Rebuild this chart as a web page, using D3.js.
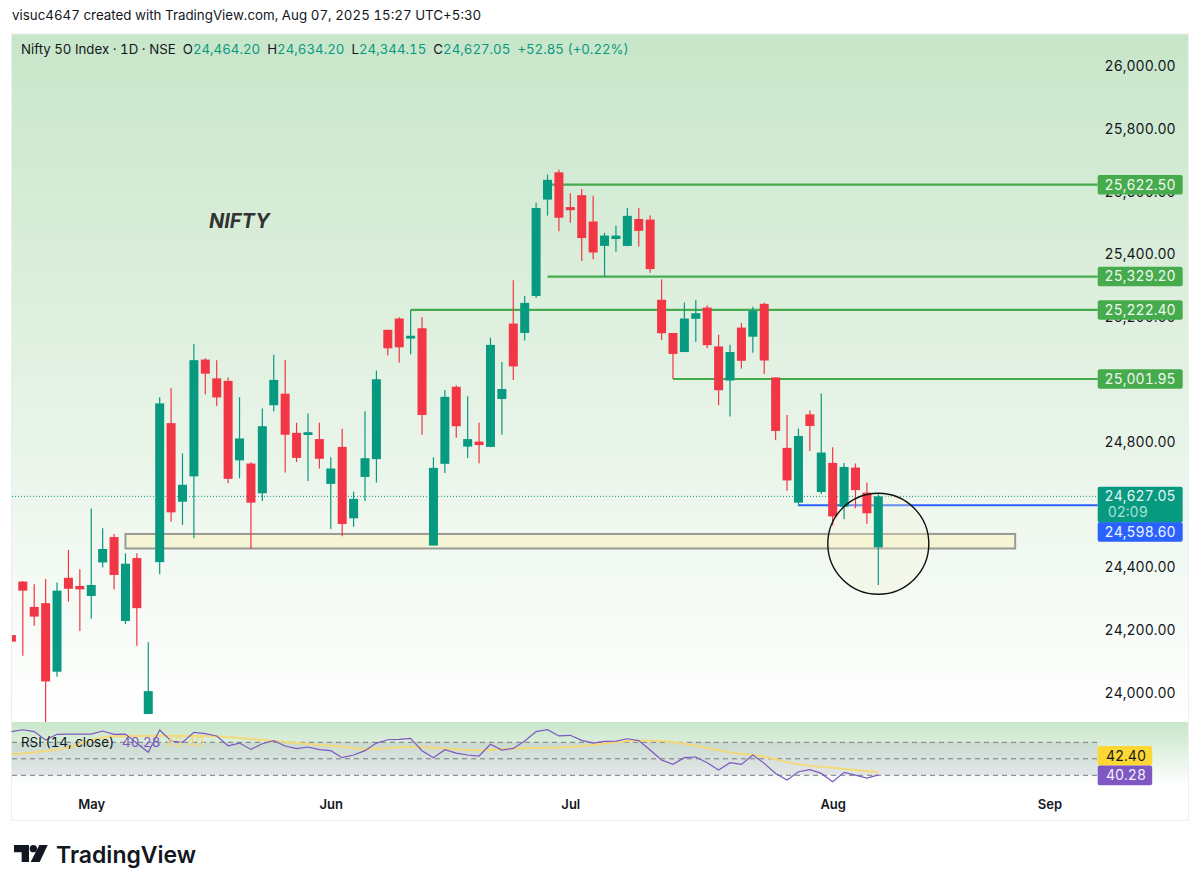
<!DOCTYPE html>
<html>
<head>
    <title>Nifty 50 Index</title>
    <script src="https://d3js.org/d3.v7.min.js"></script>
    <style>
        body { margin: 0; background: #fff; }
        text { font-family: Inter, "Noto Sans", sans-serif; font-feature-settings: "tnum"; }
    </style>
</head>
<body>
    <div id="chart"></div>
    <script>
        // candles, oldest first
        const opens = [24184, 24355, 24274, 24286, 24067, 24367, 24341, 24309, 24416, 24497, 24229, 24430, 23932, 24417, 24861, 24610, 24691, 25064, 25004, 24996, 24742, 24732, 24637, 24918, 24955, 24830, 24823, 24810, 24667, 24785, 24557, 24689, 24746, 25159, 25195, 25131, 25164, 24470, 24731, 24977, 24786, 24802, 24785, 24938, 25179, 25149, 25267, 25575, 25662, 25551, 25589, 25505, 25427, 25449, 25427, 25513, 25511, 25255, 25149, 25088, 25194, 25230, 25106, 24997, 25166, 25137, 25242, 25007, 24782, 24607, 24889, 24641, 24734, 24594, 24719, 24639, 24464.20];
        const highs = [24241, 24356, 24346, 24363, 24352, 24456, 24394, 24588, 24525, 24507, 24445, 24445, 24161, 24944, 24972, 24764, 25114, 25068, 25062, 25007, 24944, 24736, 24908, 25079, 25063, 24862, 24892, 24862, 24752, 24843, 24642, 24899, 25029, 25159, 25199, 25222, 25199, 24752, 24967, 24982, 24947, 24862, 25134, 25056, 25317, 25267, 25565, 25655, 25670, 25595, 25609, 25587, 25469, 25491, 25548, 25548, 25524, 25320, 25149, 25246, 25254, 25237, 25143, 25111, 25181, 25233, 25246, 25007, 24887, 24844, 24901, 24956, 24784, 24734, 24732, 24671, 24634.20];
        const lows = [24070, 24118, 24214, 23905, 24051, 24291, 24197, 24236, 24400, 24330, 24219, 24150, 23932, 24378, 24546, 24536, 24493, 24953, 24916, 24669, 24685, 24459, 24612, 24899, 24703, 24737, 24676, 24716, 24523, 24500, 24530, 24612, 24671, 25077, 25055, 25081, 24824, 24470, 24702, 24814, 24750, 24733, 24784, 24824, 24999, 25125, 25261, 25524, 25474, 25501, 25379, 25384, 25329, 25408, 25426, 25425, 25341, 25127, 25002, 25088, 25121, 25100, 24918, 24882, 25035, 25086, 25018, 24807, 24645, 24597, 24772, 24635, 24534, 24554, 24589, 24540, 24344.15];
        const closes = [24163, 24326, 24243, 24036, 24326, 24332, 24330, 24344, 24459, 24376, 24412, 24270, 24005, 24924, 24576, 24664, 25062, 25019, 24943, 24683, 24812, 24607, 24851, 24999, 24824, 24750, 24832, 24747, 24716, 24539, 24619, 24749, 25001, 25100, 25103, 25140, 24887, 24718, 24945, 24851, 24810, 24791, 25111, 24970, 25042, 25245, 25548, 25638, 25517, 25541, 25452, 25406, 25460, 25460, 25523, 25475, 25353, 25148, 25082, 25195, 25212, 25110, 24966, 25088, 25060, 25220, 25061, 24836, 24678, 24820, 24852, 24767, 24563, 24721, 24647, 24573, 24627.05];

        const rsiValues = [74.4, 75.9, 74.4, 67.8, 72.3, 72.5, 72.5, 72.5, 74.9, 72.3, 72.5, 65.2, 58.1, 75.7, 67, 66, 73.8, 72.8, 71, 63.3, 65.4, 60.4, 64.9, 67.3, 63.1, 61, 62.3, 60.2, 59.4, 53.9, 56, 59.4, 65.4, 68, 68.3, 69.1, 59.4, 53.9, 60.2, 57.5, 56, 55.2, 64.4, 59.9, 61.2, 67, 74.4, 75.9, 71, 71.5, 67.5, 65.4, 66.7, 67, 68.8, 67.3, 59.9, 52, 48.6, 53.9, 54.4, 49.9, 44.2, 49.9, 48.6, 56, 49.4, 41.5, 36.3, 42.8, 44.4, 41.5, 35, 42.3, 40.2, 37.8, 40.28];
        const maBars = [0, 3, 5, 7, 9, 13, 17, 21, 25, 29, 31, 35, 38, 41, 44, 48, 51, 53, 55, 57, 60, 63, 66, 69, 72, 76];
        const maValues = [56.5, 59.1, 61.8, 67.8, 70.7, 71.2, 71, 68.6, 65.4, 62.5, 60.7, 62.3, 61.2, 59.7, 61.2, 62, 63.9, 66, 67.5, 67, 63.3, 58.1, 54.7, 48.6, 46, 42.4];
        const rsiLevels = [66, 53, 40];

        // 24,600 and 25,000 sit fully under the price labels in the reference
        const axisPrices = [24000, 24200, 24400, 24800, 25200, 25400, 25600, 25800, 26000];
        const monthBars = [7, 28, 49, 72, 91];
        const monthLabels = ["May", "Jun", "Jul", "Aug", "Sep"];

        const levelPrices = [25622.5, 25329.2, 25222.4, 25001.95];
        const levelStartBars = [47, 47, 35, 58];
        const levelLabels = ["25,622.50", "25,329.20", "25,222.40", "25,001.95"];

        const width = 1200, height = 889;
        const pane = {left: 12, right: 1188, top: 34, bottom: 722};
        const rsiPane = {top: 722, bottom: 786};
        const labelX = 1097.7, labelW = 85;
        const green = "#089981", red = "#f23645", levelGreen = "#46ab4c";

        const svg = d3.select("#chart").append("svg").attr("width", width).attr("height", height);

        const x = d3.scaleLinear().domain([0, 76]).range([11.4, 878.3]);
        const y = d3.scaleLinear().domain([24000, 26000]).range([692.7, 66.5]);
        const yRsi = d3.scaleLinear().domain([40, 66]).range([775.3, 742.3]);

        const defs = svg.append("defs");
        const addGradient = (id, stops) => {
            const g = defs.append("linearGradient").attr("id", id).attr("x1", 0).attr("x2", 0).attr("y1", 0).attr("y2", 1);
            stops.forEach(s => g.append("stop").attr("offset", s[0]).attr("stop-color", s[1]));
        };
        addGradient("mainBg", [[0, "#c8e6c9"], [0.55, "#e6f3e6"], [1, "#ffffff"]]);
        addGradient("rsiBg", [[0, "#c8e6c9"], [1, "#ffffff"]]);
        defs.append("clipPath").attr("id", "mainClip").append("rect")
            .attr("x", pane.left).attr("y", pane.top).attr("width", pane.right - pane.left).attr("height", pane.bottom - pane.top);

        // backgrounds
        svg.append("rect").attr("x", pane.left).attr("y", pane.top).attr("width", pane.right - pane.left).attr("height", pane.bottom - pane.top).attr("fill", "url(#mainBg)");
        svg.append("rect").attr("x", pane.left).attr("y", rsiPane.top).attr("width", pane.right - pane.left).attr("height", rsiPane.bottom - rsiPane.top).attr("fill", "url(#rsiBg)");
        svg.append("rect").attr("x", pane.left - 0.5).attr("y", pane.top).attr("width", pane.right - pane.left + 1).attr("height", 820.5 - pane.top)
            .attr("fill", "none").attr("stroke", "#eceef1").attr("stroke-width", 1);

        const main = svg.append("g").attr("clip-path", "url(#mainClip)");

        // current price dotted line
        main.append("line").attr("x1", pane.left).attr("x2", labelX)
            .attr("y1", y(closes[closes.length - 1])).attr("y2", y(closes[closes.length - 1]))
            .attr("stroke", green).attr("stroke-width", 1).attr("stroke-dasharray", "1 2");

        // support zone
        main.append("rect").attr("x", x(10)).attr("width", x(88) - x(10))
            .attr("y", y(24507)).attr("height", y(24460.6) - y(24507))
            .attr("fill", "#f5f5d6").attr("stroke", "#9a9a94").attr("stroke-width", 2);

        // horizontal levels
        main.selectAll(".level").data(levelPrices).enter().append("line")
            .attr("class", "level")
            .attr("x1", (d, i) => x(levelStartBars[i])).attr("x2", labelX)
            .attr("y1", d => y(d)).attr("y2", d => y(d))
            .attr("stroke", levelGreen).attr("stroke-width", 2.2);
        main.append("line").attr("x1", x(69)).attr("x2", labelX)
            .attr("y1", y(24598.6)).attr("y2", y(24598.6))
            .attr("stroke", "#2962ff").attr("stroke-width", 2);

        // circle tint goes under the candles, its outline over them
        main.append("circle").attr("cx", x(76)).attr("cy", y(24475.6)).attr("r", 50.5)
            .attr("fill", "#f5f5d6").attr("fill-opacity", 0.3);

        // candles
        const bars = opens.map((o, i) => ({i: i, o: o, h: highs[i], l: lows[i], c: closes[i]}));
        const candle = main.selectAll(".candle").data(bars).enter().append("g").attr("class", "candle");
        candle.append("line")
            .attr("x1", d => x(d.i)).attr("x2", d => x(d.i))
            .attr("y1", d => y(d.h)).attr("y2", d => y(d.l))
            .attr("stroke", d => d.c >= d.o ? green : red).attr("stroke-width", 1.2);
        candle.append("rect")
            .attr("x", d => x(d.i) - 4.5).attr("width", 9)
            .attr("y", d => y(Math.max(d.o, d.c)))
            .attr("height", d => Math.abs(y(d.o) - y(d.c)))
            .attr("fill", d => d.c >= d.o ? green : red);

        main.append("circle").attr("cx", x(76)).attr("cy", y(24475.6)).attr("r", 50.5)
            .attr("fill", "none").attr("stroke", "#111").attr("stroke-width", 1.4);

        main.append("text").attr("x", 209).attr("y", 228)
            .attr("font-size", 20).attr("font-weight", 700).attr("font-style", "italic")
            .attr("fill", "#333").text("NIFTY");

        // price axis
        const priceAxis = svg.append("g").attr("transform", "translate(1175.7,0)")
            .call(d3.axisRight(y).tickValues(axisPrices).tickSize(0).tickPadding(0).tickFormat(d3.format(",.2f")));
        priceAxis.select(".domain").remove();
        priceAxis.selectAll("text").attr("text-anchor", "end").attr("font-size", 14).attr("fill", "#131722")
            .style("font-family", "Inter");

        // price labels
        const priceLabel = (cy, h, fill, text, color) => {
            svg.append("rect").attr("x", labelX).attr("y", cy - 9.7).attr("width", labelW).attr("height", h).attr("rx", 2).attr("fill", fill);
            svg.append("text").attr("x", 1175.7).attr("y", cy).attr("dy", "0.35em").attr("text-anchor", "end")
                .attr("font-size", 14).attr("fill", color).text(text);
        };
        levelPrices.forEach((p, i) => priceLabel(y(p), 19.5, levelGreen, levelLabels[i], "#f0f8f0"));
        priceLabel(496.4, 36, green, "24,627.05", "#e6f5f1");
        svg.append("text").attr("x", 1107.7).attr("y", 512).attr("dy", "0.35em")
            .attr("font-size", 14).attr("fill", "#a8e0d2").text("02:09");
        priceLabel(532, 19.5, "#2962ff", "24,598.60", "#f0f4ff");

        // RSI pane
        const rsiTop = yRsi(rsiLevels[0]), rsiBottom = yRsi(rsiLevels[2]);
        svg.append("rect").attr("x", pane.left).attr("width", labelX - pane.left)
            .attr("y", rsiTop).attr("height", rsiBottom - rsiTop)
            .attr("fill", "#7a7f9a").attr("fill-opacity", 0.16);
        svg.selectAll(".rsiLevel").data(rsiLevels).enter().append("line")
            .attr("class", "rsiLevel")
            .attr("x1", pane.left).attr("x2", labelX)
            .attr("y1", d => yRsi(d)).attr("y2", d => yRsi(d))
            .attr("stroke", "#787b86").attr("stroke-width", 1).attr("stroke-dasharray", "5 4");

        const maLine = d3.line().x(d => x(d[0])).y(d => yRsi(d[1])).curve(d3.curveMonotoneX);
        svg.append("path").attr("d", maLine(maBars.map((b, i) => [b, maValues[i]])))
            .attr("fill", "none").attr("stroke", "#f3d97a").attr("stroke-width", 2);
        const rsiLine = d3.line().x((d, i) => x(i)).y(d => yRsi(d));
        svg.append("path").attr("d", rsiLine(rsiValues))
            .attr("fill", "none").attr("stroke", "#7e57c2").attr("stroke-width", 1.2);

        svg.append("text").attr("x", 21).attr("y", 746.5).attr("font-size", 13.4).attr("fill", "#131722").text("RSI (14, close)");
        svg.append("text").attr("x", 122).attr("y", 746.5).attr("font-size", 13.4).attr("fill", "#7e57c2").text("40.28");
        svg.append("text").attr("x", 166).attr("y", 746.5).attr("font-size", 13.4).attr("fill", "#f3d97a").text("42.40");

        const rsiLabel = (top, fill, text, color) => {
            svg.append("rect").attr("x", labelX).attr("y", top).attr("width", 54.5).attr("height", 19.6).attr("rx", 2).attr("fill", fill);
            svg.append("text").attr("x", 1146).attr("y", top + 9.8).attr("dy", "0.35em").attr("text-anchor", "end")
                .attr("font-size", 14).attr("fill", color).text(text);
        };
        rsiLabel(746, "#fdd835", "42.40", "#131722");
        rsiLabel(765.6, "#7e57c2", "40.28", "#f3effa");

        // time axis
        const timeAxis = svg.append("g").attr("transform", "translate(0,800)")
            .call(d3.axisBottom(x).tickValues(monthBars).tickSize(0).tickPadding(0).tickFormat((d, i) => monthLabels[i]));
        timeAxis.select(".domain").remove();
        timeAxis.selectAll("text").attr("font-size", 13).attr("font-weight", 600).attr("fill", "#131722")
            .style("font-family", "Inter");

        // header and legend
        svg.append("text").attr("x", 12).attr("y", 20).attr("font-size", 13.35).attr("fill", "#131722")
            .text("visuc4647 created with TradingView.com, Aug 07, 2025 15:27 UTC+5:30");

        const legend = svg.append("text").attr("x", 21).attr("y", 53.5).attr("font-size", 13.25).attr("fill", "#131722");
        const legendParts = [
            ["Nifty 50 Index · 1D · NSE  O", "#131722"], ["24,464.20", green],
            ["  H", "#131722"], ["24,634.20", green],
            ["  L", "#131722"], ["24,344.15", green],
            ["  C", "#131722"], ["24,627.05", green],
            ["  +52.85 (+0.22%)", green]
        ];
        legend.attr("xml:space", "preserve").style("white-space", "pre");
        legendParts.forEach(p => legend.append("tspan").attr("fill", p[1]).text(p[0]));

        // logo
        const logo = svg.append("g").attr("transform", "translate(14,845) scale(0.3333)").attr("fill", "#131722");
        logo.append("path").attr("d", "M0 0H45V51H23V22H0Z");
        logo.append("circle").attr("cx", 58).attr("cy", 11).attr("r", 11);
        logo.append("path").attr("d", "M76 0H101L77 51H50Z");
        svg.append("text").attr("x", 56).attr("y", 863).attr("font-size", 23).attr("font-weight", 600).attr("fill", "#131722").text("TradingView");
    </script>
</body>
</html>
